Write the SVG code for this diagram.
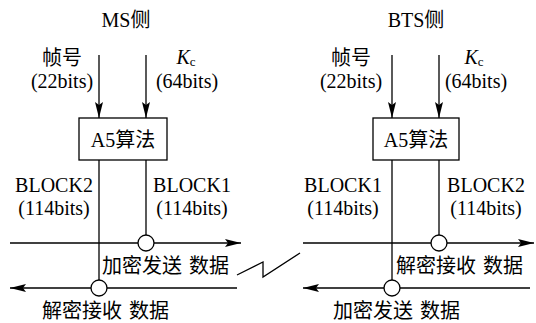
<svg xmlns="http://www.w3.org/2000/svg" width="536" height="323" viewBox="0 0 536 323">
<defs>
<marker id="ah" viewBox="0 0 16 8" refX="16" refY="4" markerWidth="16" markerHeight="8" markerUnits="userSpaceOnUse" orient="auto">
<path d="M0,0 L16,4 L0,8 L3,4 Z" fill="#000"/>
</marker>
<style>
text{font-family:"Liberation Serif","Noto Sans CJK SC",serif;font-size:20px;fill:#000;text-anchor:middle}
.ln{stroke:#000;stroke-width:1.3;fill:none}
.arr{stroke:#000;stroke-width:1.3;fill:none;marker-end:url(#ah)}
.box{fill:#fff;stroke:#000;stroke-width:1.3}
.xor{fill:#fff;stroke:#000;stroke-width:1.3}
.l{text-anchor:start}
</style>
</defs>
<rect width="536" height="323" fill="#fff"/>
<g id="connectors">
<line class="arr" x1="99" y1="55" x2="99" y2="118"/>
<line class="arr" x1="146" y1="55" x2="146" y2="118"/>
<line class="ln" x1="99" y1="160" x2="99" y2="280"/>
<line class="ln" x1="146" y1="160" x2="146" y2="235"/>
<line class="arr" x1="10" y1="243" x2="241" y2="243"/>
<line class="arr" x1="237" y1="288" x2="10" y2="288"/>
<line class="arr" x1="392" y1="55" x2="392" y2="118"/>
<line class="arr" x1="439" y1="55" x2="439" y2="118"/>
<line class="ln" x1="392" y1="160" x2="392" y2="280"/>
<line class="ln" x1="439" y1="160" x2="439" y2="235"/>
<line class="arr" x1="303" y1="243" x2="534" y2="243"/>
<line class="arr" x1="530" y1="288" x2="303" y2="288"/>
<polyline class="ln" points="237,275 263,262 263,277 300,253"/>
</g>
<g id="ms-side">
<text x="126" y="27">MS侧</text>
<text x="62" y="65">帧号</text>
<text x="62" y="88">(22bits)</text>
<text x="186" y="64"><tspan font-style="italic">K</tspan><tspan font-size="13" dy="2">c</tspan></text>
<text x="187" y="88">(64bits)</text>
<text x="54" y="192">BLOCK2</text>
<text x="54" y="215">(114bits)</text>
<text x="192" y="192">BLOCK1</text>
<text x="192" y="215">(114bits)</text>
</g>
<g id="ms-a5">
<rect class="box" x="79" y="118" width="88" height="42"/>
<text x="123" y="147">A5算法</text>
</g>
<g id="ms-xor-tx">
<circle class="xor" cx="146" cy="243" r="8"/>
</g>
<g id="ms-xor-rx">
<circle class="xor" cx="99" cy="288" r="8"/>
</g>
<g id="ms-labels">
<text class="l" x="102" y="273">加密发送<tspan dx="7">数据</tspan></text>
<text class="l" x="42" y="318">解密接收<tspan dx="7">数据</tspan></text>
</g>
<g id="bts-side">
<text x="416" y="27">BTS侧</text>
<text x="351" y="65">帧号</text>
<text x="351" y="88">(22bits)</text>
<text x="474" y="64"><tspan font-style="italic">K</tspan><tspan font-size="13" dy="2">c</tspan></text>
<text x="476" y="88">(64bits)</text>
<text x="343" y="192">BLOCK1</text>
<text x="343" y="215">(114bits)</text>
<text x="486" y="192">BLOCK2</text>
<text x="486" y="215">(114bits)</text>
</g>
<g id="bts-a5">
<rect class="box" x="373" y="118" width="86" height="42"/>
<text x="416" y="147">A5算法</text>
</g>
<g id="bts-xor-rx">
<circle class="xor" cx="439" cy="243" r="8"/>
</g>
<g id="bts-xor-tx">
<circle class="xor" cx="392" cy="288" r="8"/>
</g>
<g id="bts-labels">
<text class="l" x="396" y="273">解密接收<tspan dx="7">数据</tspan></text>
<text class="l" x="333" y="318">加密发送<tspan dx="7">数据</tspan></text>
</g>
</svg>
